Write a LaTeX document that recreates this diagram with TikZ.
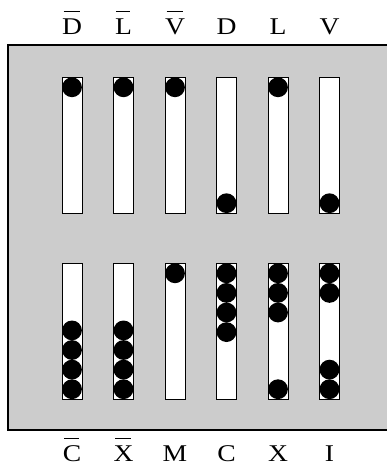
\documentclass[tikz,border=0pt]{standalone}
\usepackage{graphicx}
\usepackage{fontspec}
\setmainfont{Liberation Serif}
\newcommand\obar[1]{\setbox0\hbox{#1}\rlap{\hspace{0.08\wd0}\raisebox{22pt}{\rule{0.8\wd0}{1pt}}}\box0}
\newcommand\wide[1]{\scalebox{1.15}[1]{#1}}
\begin{document}
\begin{tikzpicture}[x=1pt,y=-1pt,
  frame/.style={draw=black,line width=1.6pt,fill=black!20},
  slot/.style={draw=black,line width=1pt,fill=white,minimum width=20pt,minimum height=135.5pt,inner sep=0pt,outer sep=0pt},
  bead/.style={circle,fill=black,minimum size=19.8pt,inner sep=0pt,outer sep=0pt},
  lab/.style={font=\fontsize{24}{28}\selectfont,anchor=base,inner sep=0pt}]
\useasboundingbox (0,0) rectangle (387,466);
\clip (0,0) rectangle (387,466);
\draw[frame] (8,45) rectangle (400,430);
% columns
\foreach \i/\x in {1/72,2/123.5,3/175,4/226.5,5/278,6/329.5}{
  \node[slot] (t\i) at (\x,145.25) {};
  \node[slot] (u\i) at (\x,331.25) {};
}
% top row labels
\node[lab] (lt1) at (72,34.3) {\wide{\obar{D}}};
\node[lab] (lt2) at (123.5,34.3) {\wide{\obar{L}}};
\node[lab] (lt3) at (175,34.3) {\wide{\obar{V}}};
\node[lab] (lt4) at (226.5,34.3) {\wide{D}};
\node[lab] (lt5) at (278,34.3) {\wide{L}};
\node[lab] (lt6) at (329.5,34.3) {\wide{V}};
% bottom labels
\node[lab] (lb1) at (72,461) {\wide{\obar{C}}};
\node[lab] (lb2) at (123.5,461) {\wide{\obar{X}}};
\node[lab] (lb3) at (175,461) {\wide{M}};
\node[lab] (lb4) at (226.5,461) {\wide{C}};
\node[lab] (lb5) at (278,461) {\wide{X}};
\node[lab] (lb6) at (329.5,461) {\wide{I}};
% top row beads
\node[bead] (bt1) at ([yshift=-9.8pt]t1.north) {};
\node[bead] (bt2) at ([yshift=-9.8pt]t2.north) {};
\node[bead] (bt3) at ([yshift=-9.8pt]t3.north) {};
\node[bead] (bt4) at ([yshift=9.8pt]t4.south) {};
\node[bead] (bt5) at ([yshift=-9.8pt]t5.north) {};
\node[bead] (bt6) at ([yshift=9.8pt]t6.south) {};
% bottom row beads
\foreach \k in {1,...,4}{
  \node[bead] (bu1-\k) at ([yshift=9.8pt+19.6pt*(\k-1)]u1.south) {};
  \node[bead] (bu2-\k) at ([yshift=9.8pt+19.6pt*(\k-1)]u2.south) {};
  \node[bead] (bu4-\k) at ([yshift=-9.8pt-19.6pt*(\k-1)]u4.north) {};
}
\node[bead] (bu3-1) at ([yshift=-9.8pt]u3.north) {};
\foreach \k in {1,...,3}{
  \node[bead] (bu5-\k) at ([yshift=-9.8pt-19.6pt*(\k-1)]u5.north) {};
}
\node[bead] (bu5-4) at ([yshift=9.8pt]u5.south) {};
\foreach \k in {1,2}{
  \node[bead] (bu6-\k) at ([yshift=-9.8pt-19.6pt*(\k-1)]u6.north) {};
  \node[bead] (bu6-b\k) at ([yshift=9.8pt+19.6pt*(\k-1)]u6.south) {};
}
\end{tikzpicture}
\end{document}
